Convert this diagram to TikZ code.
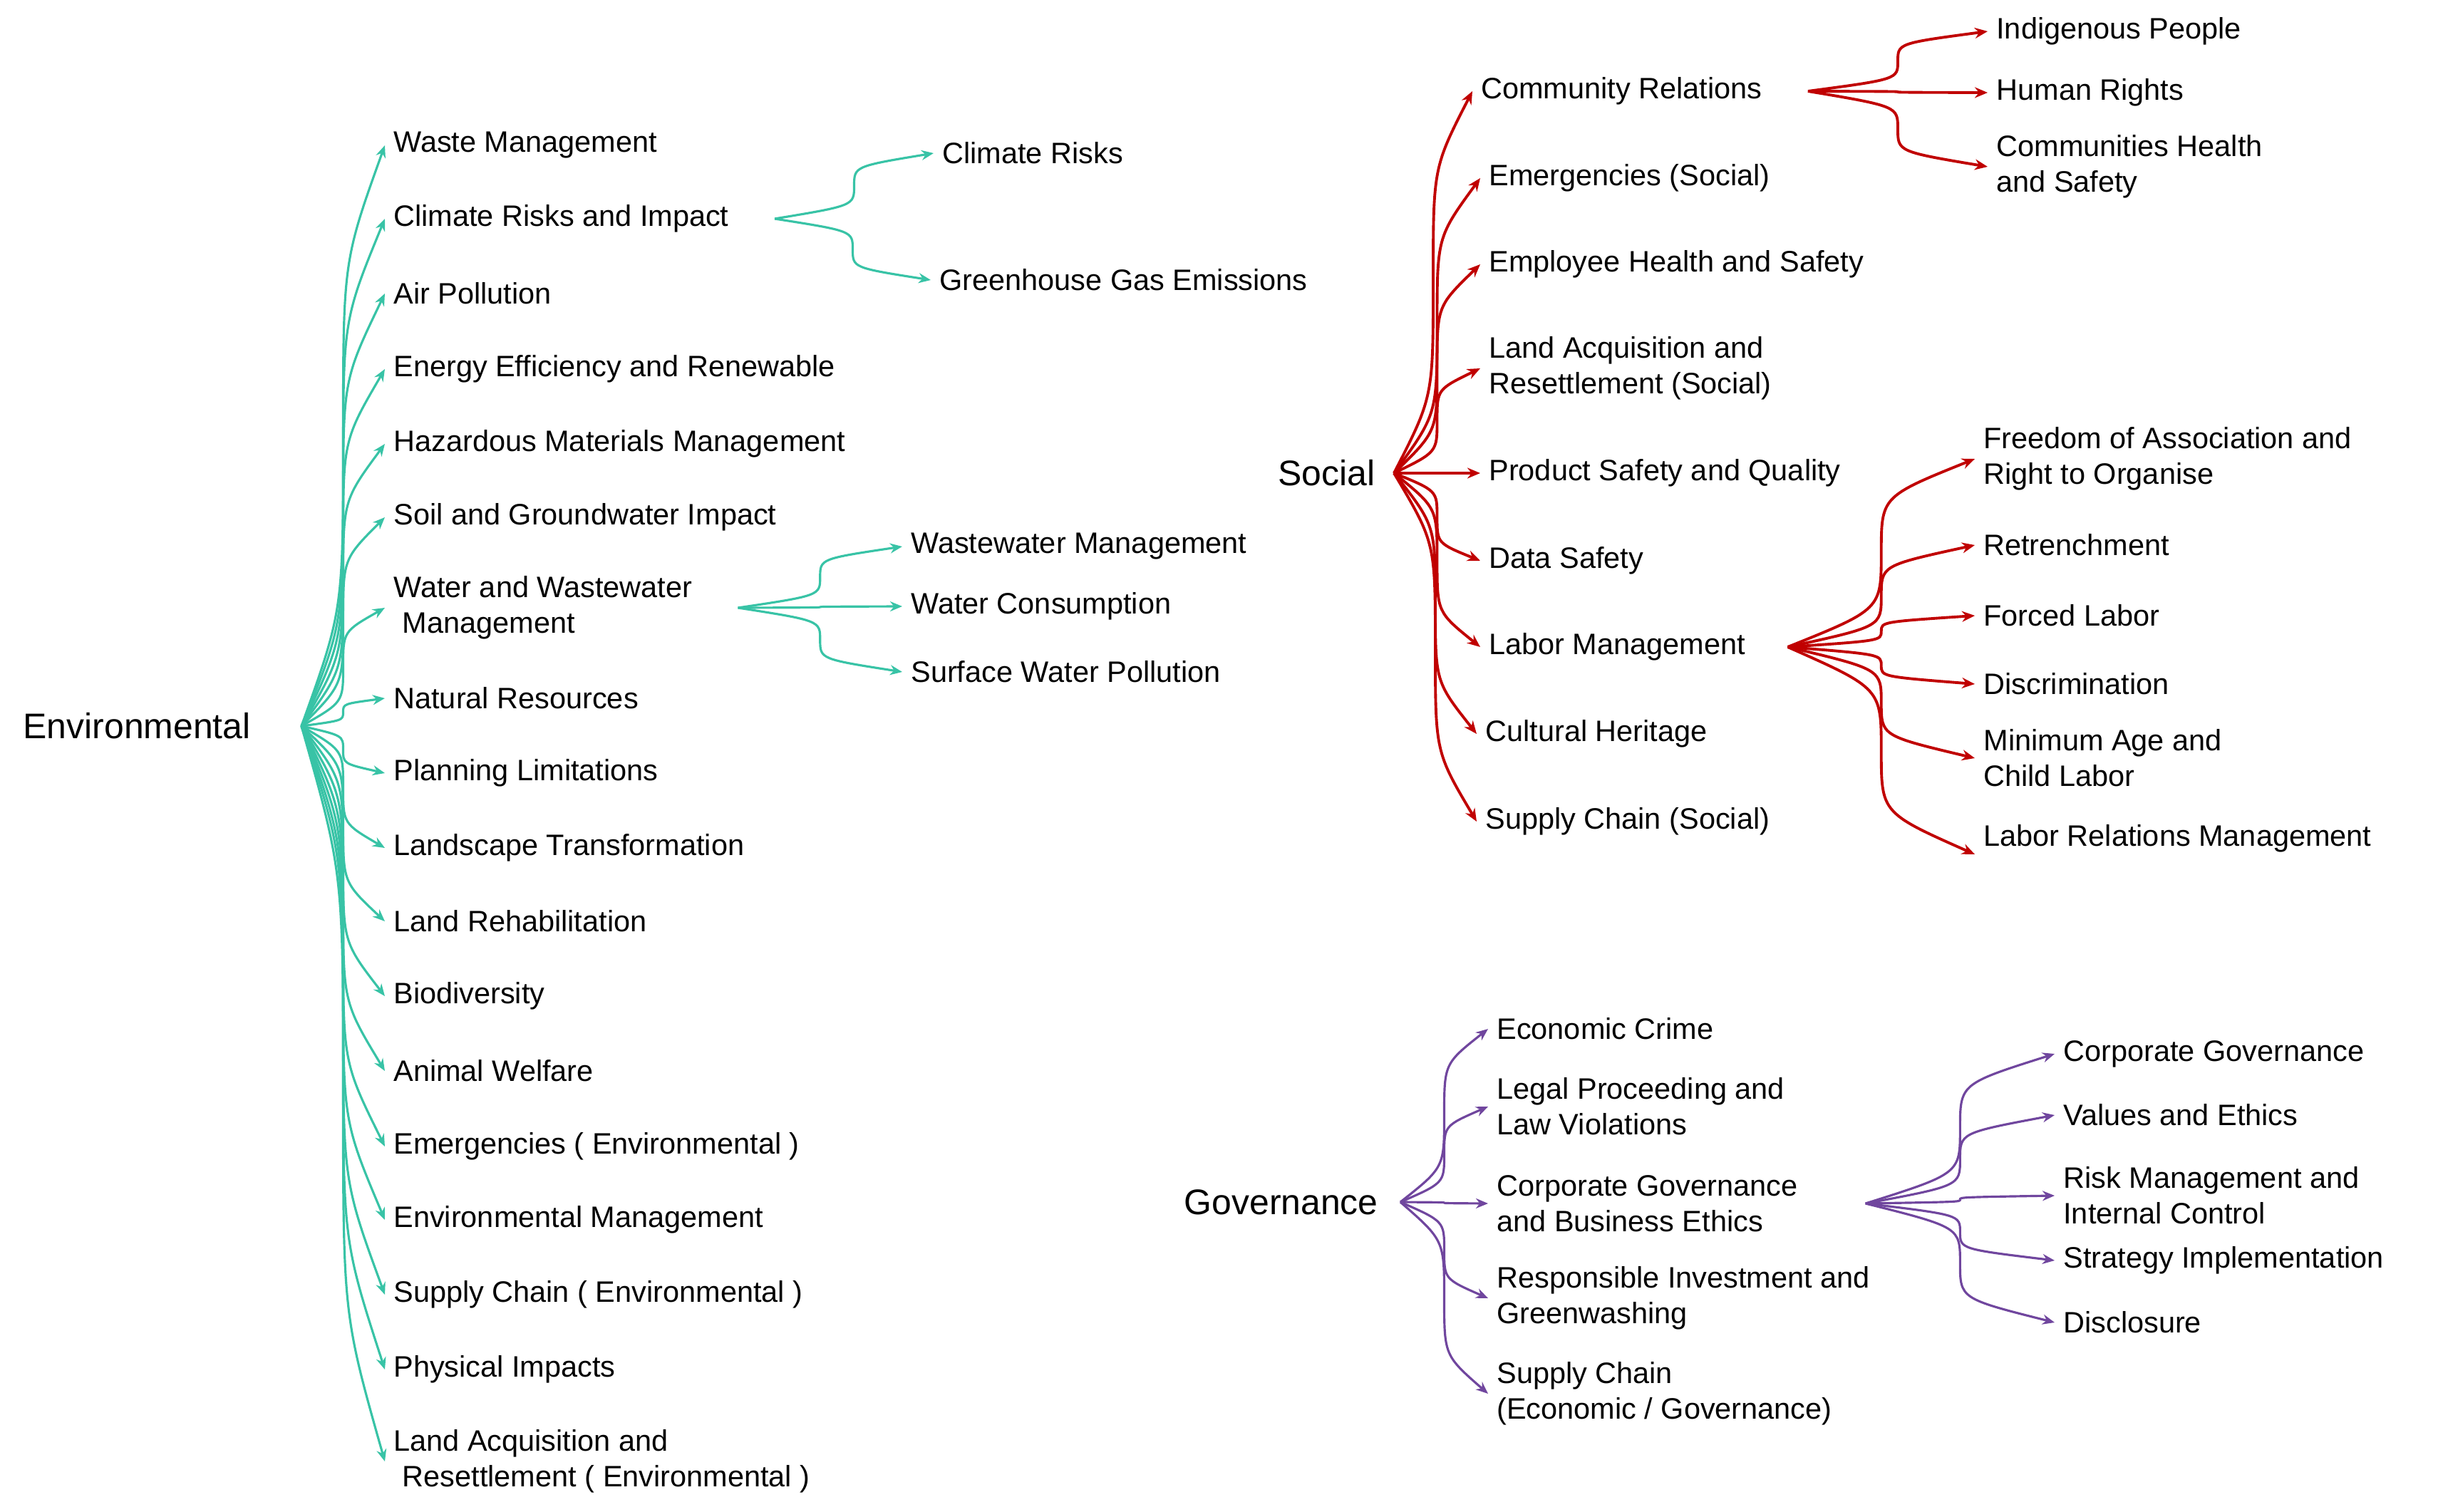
\documentclass[tikz,border=0pt]{standalone}
\usepackage{fontspec}
\setmainfont{Liberation Sans}
\usetikzlibrary{calc}
\usetikzlibrary{arrows.meta}

\definecolor{envgreen}{RGB}{56,195,166}
\definecolor{socred}{RGB}{192,0,0}
\definecolor{govpurple}{RGB}{112,70,158}

\begin{document}
\begin{tikzpicture}[
  every node/.style = {font = \fontsize{11.8}{14.3}\selectfont, align = left, yshift = -0.5mm},
  root/.style = {anchor = east, font = \fontsize{14.2}{17}\selectfont},
  leaf/.style = {anchor = west, xshift = 0.3mm},
  twig/.style = {to path = {let \p1 = (\tikztostart), \p2 = (\tikztotarget),
    \p3 = ($(\p1)!0.5!(\p2)$) in
    .. controls (\x3, 0.8*\y1 + 0.2*\y2) .. (\p3)
    .. controls (\x3, 0.2*\y1 + 0.8*\y2) .. (\p2)}},
  envline/.style = {draw = envgreen, line width = 0.9pt,
    -{Stealth[length = 1.7mm, width = 1.4mm]}},
  socline/.style = {draw = socred, line width = 1.1pt,
    -{Stealth[length = 1.8mm, width = 1.5mm]}},
  govline/.style = {draw = govpurple, line width = 0.9pt,
    -{Stealth[length = 1.7mm, width = 1.4mm]}}
]
  \useasboundingbox (0, 0) rectangle (34.35, -21.22);

  % Environmental
  \node[root] (env) at (3.64, -10.14) {Environmental};
  \node[leaf] (e1) at (5.37, -1.99) {Waste Management};
  \node[leaf] (e2) at (5.37, -3.02) {Climate Risks and Impact};
  \node[leaf] (e3) at (5.37, -4.07) {Air Pollution};
  \node[leaf] (e4) at (5.37, -5.13) {Energy Efficiency and Renewable};
  \node[leaf] (e5) at (5.37, -6.18) {Hazardous Materials Management};
  \node[leaf] (e6) at (5.37, -7.21) {Soil and Groundwater Impact};
  \node[leaf] (e7) at (5.37, -8.48) {Water and Wastewater\\\hspace*{0.3em}Management};
  \node[leaf] (e8) at (5.37, -9.75) {Natural Resources};
  \node[leaf] (e9) at (5.37, -10.80) {Planning Limitations};
  \node[leaf] (e10) at (5.37, -11.85) {Landscape Transformation};
  \node[leaf] (e11) at (5.37, -12.88) {Land Rehabilitation};
  \node[leaf] (e12) at (5.37, -13.93) {Biodiversity};
  \node[leaf] (e13) at (5.37, -14.98) {Animal Welfare};
  \node[leaf] (e14) at (5.37, -16.04) {Emergencies ( Environmental )};
  \node[leaf] (e15) at (5.37, -17.07) {Environmental Management};
  \node[leaf] (e16) at (5.37, -18.12) {Supply Chain ( Environmental )};
  \node[leaf] (e17) at (5.37, -19.17) {Physical Impacts};
  \node[leaf] (e18) at (5.37, -20.46) {Land Acquisition and\\\hspace*{0.3em}Resettlement ( Environmental )};

  \node[leaf] (ca) at (13.07, -2.10) {Climate Risks};
  \node[leaf] (cb) at (13.03, -3.88) {Greenhouse Gas Emissions};

  \node[leaf] (wa) at (12.63, -7.62) {Wastewater Management};
  \node[leaf] (wb) at (12.63, -8.46) {Water Consumption};
  \node[leaf] (wc) at (12.63, -9.38) {Surface Water Pollution};

  \foreach \k in {1,...,18}
    \draw[envline] ([xshift = 5.9mm]env.east) to[twig] (e\k.west);
  \draw[envline] ([xshift = 5.2mm]e2.east) to[twig] (ca.west);
  \draw[envline] ([xshift = 5.2mm]e2.east) to[twig] (cb.west);
  \foreach \k in {a,b,c}
    \draw[envline] ([xshift = 5.2mm]e7.east) to[twig] (w\k.west);

  % Social
  \node[root] (soc) at (19.42, -6.59) {Social};
  \node[leaf] (s1) at (20.63, -1.23) {Community Relations};
  \node[leaf] (s2) at (20.74, -2.45) {Emergencies (Social)};
  \node[leaf] (s3) at (20.74, -3.66) {Employee Health and Safety};
  \node[leaf] (s4) at (20.74, -5.12) {Land Acquisition and\\Resettlement (Social)};
  \node[leaf] (s5) at (20.74, -6.59) {Product Safety and Quality};
  \node[leaf] (s6) at (20.74, -7.82) {Data Safety};
  \node[leaf] (s7) at (20.74, -9.03) {Labor Management};
  \node[leaf] (s8) at (20.69, -10.25) {Cultural Heritage};
  \node[leaf] (s9) at (20.69, -11.48) {Supply Chain (Social)};

  \node[leaf] (c1) at (27.86, -0.39) {Indigenous People};
  \node[leaf] (c2) at (27.86, -1.25) {Human Rights};
  \node[leaf] (c3) at (27.86, -2.29) {Communities Health\\and Safety};

  \node[leaf] (l1) at (27.68, -6.39) {Freedom of Association and\\Right to Organise};
  \node[leaf] (l2) at (27.68, -7.60) {Retrenchment};
  \node[leaf] (l3) at (27.68, -8.59) {Forced Labor};
  \node[leaf] (l4) at (27.68, -9.55) {Discrimination};
  \node[leaf] (l5) at (27.68, -10.59) {Minimum Age and\\Child Labor};
  \node[leaf] (l6) at (27.68, -11.72) {Labor Relations Management};

  \foreach \k in {1,...,9}
    \draw[socline] ([xshift = 1.4mm]soc.east) to[twig] (s\k.west);
  \foreach \k in {1,2,3}
    \draw[socline] ([xshift = 5.2mm]s1.east) to[twig] (c\k.west);
  \foreach \k in {1,...,5}
    \draw[socline] ([xshift = 4.7mm]s7.east) to[twig] (l\k.west);
  \draw[socline] ([xshift = 4.7mm]s7.east) to[twig] ([yshift = -2.2mm]l6.west);

  % Governance
  \node[root] (gov) at (19.46, -16.82) {Governance};
  \node[leaf] (g1) at (20.85, -14.39) {Economic Crime};
  \node[leaf] (g2) at (20.85, -15.48) {Legal Proceeding and\\Law Violations};
  \node[leaf] (g3) at (20.85, -16.84) {Corporate Governance\\and Business Ethics};
  \node[leaf] (g4) at (20.85, -18.17) {Responsible Investment and\\Greenwashing};
  \node[leaf] (g5) at (20.85, -19.51) {Supply Chain\\(Economic / Governance)};

  \node[leaf] (k1) at (28.80, -14.74) {Corporate Governance};
  \node[leaf] (k2) at (28.80, -15.60) {Values and Ethics};
  \node[leaf] (k3) at (28.80, -16.73) {Risk Management and\\Internal Control};
  \node[leaf] (k4) at (28.80, -17.64) {Strategy Implementation};
  \node[leaf] (k5) at (28.80, -18.51) {Disclosure};

  \foreach \k in {1,...,5}
    \draw[govline] ([xshift = 1.9mm]gov.east) to[twig] (g\k.west);
  \foreach \k in {1,...,5}
    \draw[govline] ([xshift = 8.3mm]g3.east) to[twig] (k\k.west);
\end{tikzpicture}
\end{document}
